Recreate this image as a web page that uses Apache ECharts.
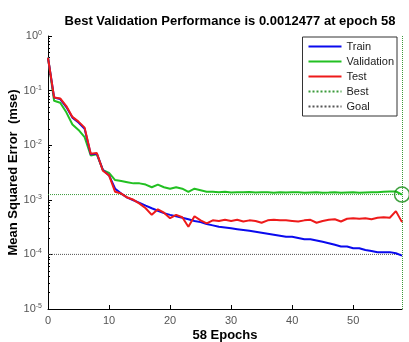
<!DOCTYPE html>
<html lang="en">
<head>
    <meta charset="UTF-8">
    <title>Performance</title>
    <script type="text/javascript" src="https://cdn.jsdelivr.net/npm/echarts@6/dist/echarts.min.js"></script>
    <style>
        html, body { margin: 0; padding: 0; background: #fff; }
    </style>
</head>
<body>
    <div id="container" style="width:409px;height:342px"></div>

    <script type="text/javascript">
        // mse per epoch, 0..58
        var trainPerf = [0.40, 0.075, 0.070, 0.050, 0.032, 0.026, 0.020, 0.0068, 0.0070, 0.0035,
            0.0028, 0.0016, 0.0013, 0.0011, 0.00098, 0.00088, 0.00078, 0.00070, 0.00063, 0.00057,
            0.00053, 0.00050, 0.00047, 0.00044, 0.00041, 0.00039, 0.00036, 0.00034, 0.00032, 0.00031,
            0.00030, 0.00029, 0.00028, 0.00027, 0.00026, 0.00025, 0.00024, 0.00023, 0.00022, 0.00021,
            0.00021, 0.00020, 0.00019, 0.00019, 0.00018, 0.00017, 0.00016, 0.00015, 0.00014, 0.00014,
            0.00013, 0.00013, 0.00012, 0.000115, 0.00011, 0.00011, 0.00011, 0.000105, 0.000095];
        var valPerf = [0.40, 0.065, 0.060, 0.040, 0.024, 0.019, 0.014, 0.0065, 0.0068, 0.0035,
            0.0031, 0.0023, 0.0022, 0.0021, 0.0020, 0.0020, 0.0019, 0.0017, 0.0019, 0.0017,
            0.0016, 0.0017, 0.0016, 0.0014, 0.0016, 0.0015, 0.0014, 0.00141, 0.00138, 0.00140,
            0.00136, 0.00138, 0.00137, 0.00139, 0.00136, 0.00137, 0.00138, 0.00135, 0.00137, 0.00136,
            0.00138, 0.00137, 0.00135, 0.00136, 0.00137, 0.00135, 0.00136, 0.00138, 0.00135, 0.00136,
            0.00137, 0.00135, 0.00136, 0.00137, 0.00138, 0.00140, 0.00142, 0.00142, 0.0012477];
        var testPerf = [0.40, 0.075, 0.072, 0.052, 0.033, 0.027, 0.021, 0.0070, 0.0072, 0.0034,
            0.0028, 0.0014, 0.0013, 0.0011, 0.0010, 0.00085, 0.00070, 0.00053, 0.00067, 0.00058,
            0.00046, 0.00053, 0.00048, 0.00032, 0.00050, 0.00042, 0.00037, 0.00042, 0.00041, 0.00043,
            0.00041, 0.00043, 0.00040, 0.00042, 0.00041, 0.00038, 0.00042, 0.00043, 0.00042, 0.00042,
            0.00041, 0.00040, 0.00042, 0.00043, 0.00038, 0.00041, 0.00043, 0.00044, 0.00040, 0.00045,
            0.00046, 0.00045, 0.00046, 0.00044, 0.00047, 0.00048, 0.00047, 0.00062, 0.00039];
        var bestEpoch = 58;
        var bestPerf = 0.0012477;
        var goalPerf = 1e-4;
        var xTicks = [0, 10, 20, 30, 40, 50];

        function pairs(arr) {
            return arr.map(function (v, i) { return [i, v]; });
        }

        var font = 'Arial, "Liberation Sans", sans-serif';
        var dom = document.getElementById("container");
        var myChart = echarts.init(dom, null, {renderer: 'canvas'});

        var option = {
            animation: false,
            backgroundColor: '#fff',
            title: {
                text: 'Best Validation Performance is ' + bestPerf + ' at epoch ' + bestEpoch,
                left: 225,
                top: 10,
                textAlign: 'center',
                textStyle: {fontFamily: font, fontSize: 13, fontWeight: 'bold', color: '#000'}
            },
            grid: {left: 48, right: 7, top: 36, bottom: 33, containLabel: false, outerBoundsMode: 'none'},
            legend: {
                orient: 'vertical',
                right: 12,
                top: 37,
                padding: [4, 3, 4, 5],
                itemGap: 4,
                itemWidth: 33,
                itemHeight: 12,
                borderColor: '#333',
                borderWidth: 1,
                backgroundColor: '#fff',
                itemStyle: {opacity: 0},
                textStyle: {fontFamily: font, fontSize: 11, color: '#222'},
                data: ['Train', 'Validation', 'Test', 'Best', 'Goal']
            },
            xAxis: {
                type: 'value',
                min: 0,
                max: 58,
                interval: 10,
                name: bestEpoch + ' Epochs',
                nameLocation: 'middle',
                nameGap: 20,
                nameMoveOverlap: false,
                nameTextStyle: {fontFamily: font, fontSize: 13, fontWeight: 'bold', color: '#000'},
                axisLine: {lineStyle: {color: '#000'}},
                axisTick: {inside: true, length: 4, lineStyle: {color: '#000'}},
                axisLabel: {
                    fontFamily: font, fontSize: 11, color: '#555', margin: 6,
                    showMaxLabel: false,
                    formatter: function (v) { return xTicks.indexOf(v) >= 0 ? String(v) : ''; }
                },
                splitLine: {show: false}
            },
            yAxis: {
                type: 'log',
                logBase: 10,
                min: 1e-5,
                max: 1,
                name: 'Mean Squared Error  (mse)',
                nameLocation: 'middle',
                nameGap: 28,
                nameMoveOverlap: false,
                nameTextStyle: {fontFamily: font, fontSize: 13, fontWeight: 'bold', color: '#000'},
                axisLine: {show: true, lineStyle: {color: '#000'}},
                axisTick: {inside: true, length: 4, lineStyle: {color: '#000'}},
                minorTick: {show: true, splitNumber: 9, length: 2, lineStyle: {color: '#000'}},
                axisLabel: {
                    margin: 6,
                    color: '#555',
                    fontFamily: font,
                    fontSize: 11,
                    formatter: function (v) {
                        var e = Math.round(Math.log10(v));
                        return '10{s|' + e + '}';
                    },
                    rich: {s: {fontFamily: font, fontSize: 7, color: '#555', verticalAlign: 'top', padding: [0, 0, 6, 0]}}
                },
                splitLine: {show: false}
            },
            series: [
                {
                    name: 'Train', type: 'line', data: pairs(trainPerf), symbol: 'none',
                    lineStyle: {color: '#0a0aee', width: 2}, itemStyle: {color: '#0a0aee'}, z: 4
                },
                {
                    name: 'Validation', type: 'line', data: pairs(valPerf), symbol: 'none',
                    lineStyle: {color: '#22c022', width: 2}, itemStyle: {color: '#22c022'}, z: 3
                },
                {
                    name: 'Test', type: 'line', data: pairs(testPerf), symbol: 'none',
                    lineStyle: {color: '#ee1a1a', width: 2}, itemStyle: {color: '#ee1a1a'}, z: 5
                },
                {
                    name: 'Best', type: 'line', symbol: 'none',
                    data: [[0, bestPerf], [bestEpoch, bestPerf]],
                    lineStyle: {color: '#3a9a3a', width: 1, type: 'dotted'}, itemStyle: {color: '#3a9a3a'}, z: 2,
                    markLine: {
                        silent: true,
                        symbol: ['none', 'none'],
                        label: {show: false},
                        lineStyle: {color: '#3a9a3a', width: 1, type: 'dotted'},
                        data: [{xAxis: bestEpoch}]
                    }
                },
                {
                    name: 'Goal', type: 'line', symbol: 'none',
                    data: [[0, goalPerf], [bestEpoch, goalPerf]],
                    lineStyle: {color: '#555', width: 1, type: 'dotted'}, itemStyle: {color: '#555'}, z: 2
                },
                {
                    name: 'BestMark', type: 'scatter',
                    data: [[bestEpoch, bestPerf]],
                    symbol: 'circle', symbolSize: 15,
                    itemStyle: {color: 'rgba(0,0,0,0)', borderColor: '#108a10', borderWidth: 1.5},
                    z: 6
                }
            ]
        };

        myChart.setOption(option, true);
    </script>
</body>
</html>
